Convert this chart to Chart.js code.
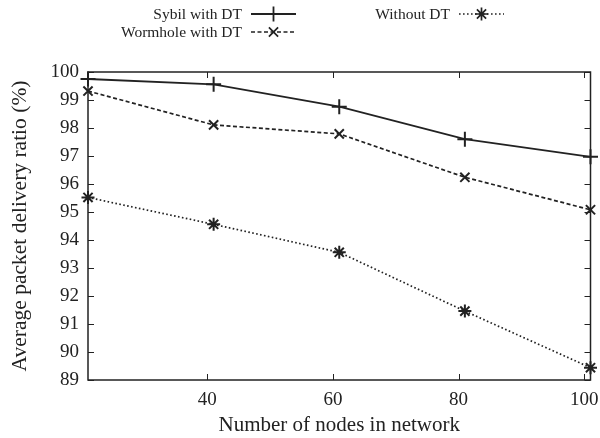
<!DOCTYPE html>
<html>
<head>
<meta charset="utf-8">
<script src="https://cdn.jsdelivr.net/npm/chart.js@4/dist/chart.umd.min.js"></script>
<style>
  html, body { margin: 0; padding: 0; background: #fff; }
  #wrap { width: 600px; height: 438px; position: relative; }
</style>
</head>
<body>
<div id="wrap"><canvas id="chart"></canvas></div>
<script>
// data
const nodes = [21, 41, 61, 81, 101];
const sybil = [99.75, 99.56, 98.76, 97.6, 96.97];
const wormhole = [99.32, 98.11, 97.79, 96.24, 95.08];
const withoutDT = [95.52, 94.56, 93.56, 91.46, 89.44];
const xTicks = [40, 60, 80, 100];
const yTicks = [89, 90, 91, 92, 93, 94, 95, 96, 97, 98, 99, 100];

const FONT = '"Liberation Serif", "Times New Roman", serif';
const ink = '#222';

const pts = vals => nodes.map((n, i) => ({ x: n, y: vals[i] }));

// gnuplot style: inward ticks on all four sides, plus frame
const frame = {
    id: 'frame',
    afterDraw(chart) {
        const { ctx, chartArea: a, scales } = chart;
        ctx.save();
        ctx.strokeStyle = ink;
        ctx.lineWidth = 1.5;
        ctx.strokeRect(a.left, a.top, a.right - a.left, a.bottom - a.top);
        ctx.lineWidth = 1;
        const len = 6;
        ctx.beginPath();
        scales.x.ticks.forEach(t => {
            const px = Math.round(scales.x.getPixelForValue(t.value)) + 0.5;
            ctx.moveTo(px, a.bottom); ctx.lineTo(px, a.bottom - len);
            ctx.moveTo(px, a.top); ctx.lineTo(px, a.top + len);
        });
        scales.y.ticks.forEach(t => {
            const py = Math.round(scales.y.getPixelForValue(t.value)) + 0.5;
            ctx.moveTo(a.left, py); ctx.lineTo(a.left + len, py);
            ctx.moveTo(a.right, py); ctx.lineTo(a.right - len, py);
        });
        ctx.stroke();
        ctx.restore();
    }
};

// legend laid out like the original: text right-aligned, then a sample
const keyBox = {
    id: 'keyBox',
    afterDraw(chart) {
        const { ctx } = chart;
        const spots = [
            { ds: 0, textRight: 242, x0: 251, x1: 296, y: 14 },
            { ds: 1, textRight: 242, x0: 251, x1: 296, y: 32 },
            { ds: 2, textRight: 450, x0: 459, x1: 504, y: 14 }
        ];
        ctx.save();
        ctx.font = '15.5px ' + FONT;
        ctx.fillStyle = ink;
        ctx.textAlign = 'right';
        ctx.textBaseline = 'middle';
        spots.forEach(s => {
            const d = chart.data.datasets[s.ds];
            ctx.fillText(d.label, s.textRight, s.y + 1);
            ctx.strokeStyle = ink;
            ctx.lineWidth = d.borderWidth;
            ctx.setLineDash(d.borderDash || []);
            ctx.beginPath();
            ctx.moveTo(s.x0, s.y); ctx.lineTo(s.x1, s.y);
            ctx.stroke();
            ctx.setLineDash([]);
            Chart.helpers.drawPoint(ctx, {
                pointStyle: d.pointStyle, radius: d.pointRadius,
                borderWidth: d.pointBorderWidth, rotation: 0
            }, (s.x0 + s.x1) / 2, s.y);
        });
        ctx.restore();
    }
};

const mk = (label, vals, style, radius, dash, width) => ({
    label: label, data: pts(vals),
    borderColor: ink, backgroundColor: ink,
    borderWidth: width, borderDash: dash,
    pointStyle: style, pointRadius: radius, pointHoverRadius: radius,
    pointBorderWidth: 2, pointBorderColor: ink,
    tension: 0, fill: false, clip: false
});

new Chart(document.getElementById('chart'), {
    type: 'line',
    data: {
        datasets: [
            mk('Sybil with DT', sybil, 'cross', 7.5, [], 1.8),
            mk('Wormhole with DT', wormhole, 'crossRot', 6.5, [4, 2.5], 1.7),
            mk('Without DT', withoutDT, 'star', 6.5, [1.6, 2.4], 1.7)
        ]
    },
    options: {
        responsive: true, maintainAspectRatio: false, animation: false,
        layout: { padding: { top: 72, right: 9, left: 0, bottom: 0 } },
        plugins: { legend: { display: false }, tooltip: { enabled: false } },
        scales: {
            x: {
                type: 'linear', min: 21, max: 101,
                afterBuildTicks: s => { s.ticks = xTicks.map(v => ({ value: v })); },
                afterFit: s => { s.height = 58; },
                grid: { display: false }, border: { display: false },
                ticks: { color: ink, font: { family: FONT, size: 19 }, padding: 1, maxRotation: 0 },
                title: { display: true, text: 'Number of nodes in network', color: ink,
                         font: { family: FONT, size: 21 }, padding: { top: 0, bottom: 0 } }
            },
            y: {
                min: 89, max: 100,
                afterBuildTicks: s => { s.ticks = yTicks.map(v => ({ value: v })); },
                afterFit: s => { s.width = 88; },
                grid: { display: false }, border: { display: false },
                ticks: { color: ink, font: { family: FONT, size: 19 }, padding: 1 },
                title: { display: true, text: 'Average packet delivery ratio (%)', color: ink,
                         font: { family: FONT, size: 21.5 }, padding: { top: 7, bottom: 0 } }
            }
        }
    },
    plugins: [frame, keyBox]
});
</script>
</body>
</html>
